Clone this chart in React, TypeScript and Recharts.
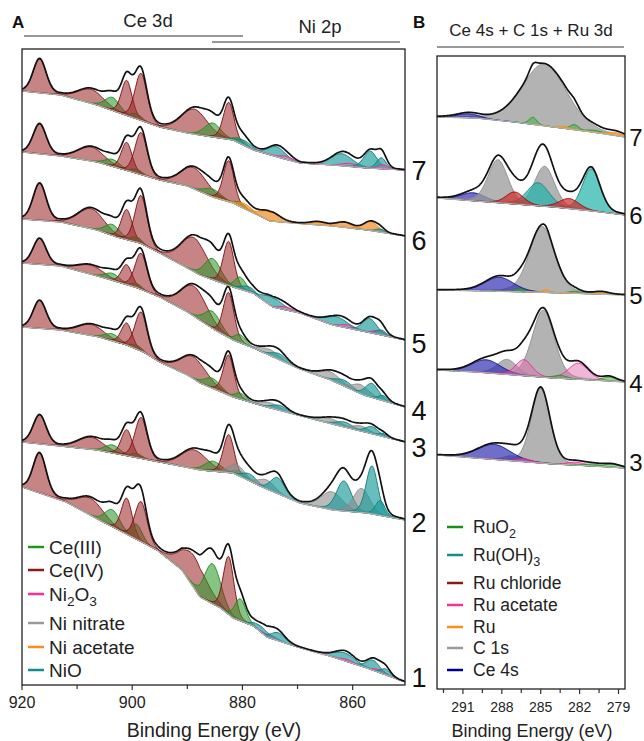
import React from 'react';
import { ComposedChart, Area, Line, XAxis, YAxis } from 'recharts';

const FONT = "'Liberation Sans', Arial, Helvetica, sans-serif";

type Peak = [string, number, number, number]; // component, centre (eV), height, fwhm (eV)
type Knot = [number, number]; // energy, background level

// ---------- Panel A : Ce 3d + Ni 2p ----------
const ceTypes = ['CeIV', 'CeIV', 'CeIII', 'CeIV', 'CeIII', 'CeIV', 'CeIV', 'CeIII', 'CeIV', 'CeIII'];
const ceCenters = [916.8, 907.5, 903.6, 901.0, 899.2, 898.4, 888.8, 885.4, 882.5, 880.4];
const ceWidths = [2.8, 5.5, 3.2, 2.3, 2.4, 2.6, 5.5, 3.5, 2.3, 2.4];

const ceHeights7 = [34, 14, 13, 35, 5, 47, 25, 14, 37, 5];
const ceHeights6 = [30, 14, 7, 28, 4, 42, 21, 8, 41, 4];
const ceHeights5 = [37, 20, 11, 30, 5, 48, 34, 21, 44, 12];
const ceHeights4 = [26, 9, 7, 20, 4, 36, 30, 17, 45, 8];
const ceHeights3 = [28, 11, 7, 22, 4, 39, 22, 10, 40, 6];
const ceHeights2 = [29, 12, 8, 26, 4, 41, 19, 10, 38, 5];
const ceHeights1 = [40, 17, 17, 36, 15, 40, 32, 40, 58, 22];

const baseA7: Knot[] = [[920, 594], [913, 590], [906.4, 580], [902.8, 573], [898.6, 565], [895, 558], [890, 552], [885.4, 548], [881.7, 545], [878, 535], [873, 527], [869.6, 522], [863.6, 520], [857.4, 517], [850.5, 515]];
const baseA6: Knot[] = [[920, 533], [913, 529], [906.4, 523], [900, 513], [895, 505], [890, 499], [885.4, 488], [881.7, 482], [878, 472], [875, 464], [870.9, 462], [863.6, 459], [857.4, 455], [850.5, 449]];
const baseA5: Knot[] = [[920, 466], [913, 463], [906.4, 455], [902.8, 448], [898.6, 442], [895, 432], [887.7, 410], [881.7, 398], [878.1, 392], [874.5, 378], [869.6, 372], [863.6, 360], [857.4, 353], [850.5, 345]];
const baseA4: Knot[] = [[920, 422], [913, 419], [905, 407], [899, 397], [895, 388], [890, 373], [885, 355], [881.7, 345], [878, 337], [874, 327], [870, 317], [864, 305], [858, 290], [850.5, 278]];
const baseA3: Knot[] = [[920, 358], [913, 355], [906, 348], [901, 340], [898, 333], [895, 323], [890, 310], [887.7, 302], [881.7, 288], [875.6, 278], [870, 270], [863, 260], [857, 252], [850.5, 243]];
const baseA2: Knot[] = [[920, 243], [906.4, 235], [895, 223], [887.7, 215], [881.7, 212], [876, 197], [869.6, 182], [863.6, 175], [857.4, 172], [850.5, 165]];
const baseA1: Knot[] = [[920, 198], [912, 183], [906, 165], [900, 148], [895.5, 135], [891, 115], [887.7, 88], [884, 77], [881.7, 67], [878, 59], [875.6, 48], [870, 38], [863.6, 28], [857.4, 17], [850.5, 3]];

const ni7: Peak[] = [['NiO', 879.5, 5, 3], ['NiO', 873.8, 10, 3.5], ['Ni2O3', 872, 3, 3], ['NiO', 862, 12, 4.5], ['Ni2O3', 860.5, 3, 3.5], ['NiO', 856.8, 17, 2.8], ['NiO', 854.8, 11, 2], ['Ni2O3', 854.5, 4, 2]];
const ni6: Peak[] = [['NiAc', 879.5, 5, 3], ['NiAc', 875, 9, 4], ['NiAc', 866.3, 3, 3.5], ['NiAc', 861.5, 5, 3.5], ['NiAc', 856.7, 9, 3], ['NiO', 855, 3, 2]];
const ni5: Peak[] = [['NiO', 879, 5, 3], ['NiO', 874.5, 9, 4], ['Ni2O3', 872, 3, 3], ['NiO', 862.9, 9, 4.5], ['Ni2O3', 861, 3, 3], ['NiO', 856.9, 14, 3], ['Ni2O3', 855.2, 4, 2.5], ['NiO', 854.8, 5, 2]];
const ni4: Peak[] = [['NiNit', 875, 6, 4], ['NiO', 873.3, 6, 3.2], ['NiNit', 864, 8, 4.5], ['NiO', 861.5, 6, 3.5], ['NiNit', 858.5, 9, 3.5], ['NiO', 856.5, 14, 2.8], ['NiO', 854.5, 5, 2]];
const ni3: Peak[] = [['NiNit', 875, 5, 4], ['NiO', 873.3, 5, 3.2], ['NiNit', 864, 5, 4.5], ['NiO', 861.5, 5, 3.5], ['NiNit', 858.5, 5, 3.5], ['NiO', 856.5, 7, 2.8], ['NiO', 854.5, 3, 2]];
const ni2: Peak[] = [['NiNit', 881, 10, 3.5], ['NiO', 878.7, 7, 3], ['NiNit', 875.6, 9, 3.5], ['NiO', 873.6, 16, 3], ['NiNit', 863.8, 18, 4.5], ['NiO', 861.6, 30, 3.2], ['NiNit', 858.4, 24, 3.5], ['NiO', 856.5, 48, 2.5], ['NiO', 855, 15, 2]];
const ni1: Peak[] = [['NiO', 876.5, 6, 3.5], ['Ni2O3', 875, 3, 3], ['NiO', 873.5, 8, 3], ['NiO', 861.5, 8, 4.5], ['Ni2O3', 861, 2, 3], ['NiO', 856.3, 10, 2.8], ['Ni2O3', 855, 3, 2.5], ['NiO', 854, 6, 2]];

// ---------- Panel B : Ce 4s + C 1s + Ru 3d ----------
const baseB7: Knot[] = [[293, 572], [290, 571], [287, 567], [284, 562], [281, 557], [278.5, 552]];
const baseB6: Knot[] = [[293, 491], [290, 488], [287, 485], [284, 482], [281, 478], [278.5, 474]];
const baseB5: Knot[] = [[293, 399], [289, 398], [286, 397], [283, 396], [278.5, 394]];
const baseB4: Knot[] = [[293, 319], [290, 317], [287, 314], [284, 311], [281, 309], [278.5, 307]];
const baseB3: Knot[] = [[293, 234], [290, 231], [287, 228], [284, 225], [281, 223], [278.5, 221]];

const peaksB7: Peak[] = [['C1s', 284.7, 62, 4.0], ['Ce4s', 290.6, 4, 2.0], ['RuO2', 285.6, 7, 0.7], ['RuO2', 282.4, 5, 0.8], ['RuO2', 280.8, 2, 1.5], ['Ru', 283.2, 2, 1.0], ['Ru', 279.2, 3, 1.5]];
const peaksB6: Peak[] = [['Ce4s', 290.2, 8, 2.2], ['C1s', 288.3, 43, 1.8], ['C1s', 284.7, 40, 1.8], ['RuOH', 285.2, 23, 2.0], ['RuOH', 281.1, 42, 1.6], ['RuCl', 287.0, 12, 1.6], ['RuCl', 282.8, 10, 1.8]];
const peaksB5: Peak[] = [['C1s', 284.9, 66, 2.3], ['Ce4s', 288.2, 14, 2.6], ['RuO2', 286.6, 3, 1.0], ['RuO2', 282.4, 2, 1.0], ['Ru', 284.6, 3, 0.6], ['Ru', 280.3, 2, 1.2]];
const peaksB4: Peak[] = [['C1s', 284.8, 67, 2.0], ['C1s', 287.6, 15, 1.8], ['Ce4s', 289.2, 13, 2.6], ['RuAc', 286.3, 16, 1.5], ['RuAc', 282.1, 16, 1.8], ['RuO2', 283.5, 3, 1.2], ['RuO2', 279.7, 4, 1.2]];
const peaksB3: Peak[] = [['C1s', 285.0, 75, 1.7], ['C1s', 287.2, 5, 1.5], ['Ce4s', 288.6, 15, 3.0], ['RuAc', 286.3, 3, 1.2], ['RuAc', 282.3, 3, 1.5], ['RuO2', 281, 2, 1.5], ['RuO2', 279.5, 3, 1.5]];

const ticksA = [920, 910, 900, 890, 880, 870, 860];
const ticksB = [292.5, 291, 289.5, 288, 286.5, 285, 283.5, 282, 280.5, 279];

const sampleLabels = ['7', '6', '5', '4', '3', '2', '1'];
const sampleLabelsB = ['7', '6', '5', '4', '3'];

const legendA: [string, string][] = [['Ce(III)', '#1a9a1a'], ['Ce(IV)', '#8b1a1a'], ['Ni2O3', '#ff2d95'], ['Ni nitrate', '#999999'], ['Ni acetate', '#ff8c1a'], ['NiO', '#148c8c']];
const legendB: [string, string][] = [['RuO2', '#1a8f1a'], ['Ru(OH)3', '#148c8c'], ['Ru chloride', '#8b1a1a'], ['Ru acetate', '#ff2d95'], ['Ru', '#ff8c1a'], ['C 1s', '#999999'], ['Ce 4s', '#00008b']];

const STYLE: Record<string, { stroke: string; fill: string; op: number }> = {
  CeIII: { stroke: '#1a8a1a', fill: '#2e9a2e', op: 0.58 },
  CeIV: { stroke: '#7a0a0a', fill: '#9a2424', op: 0.56 },
  Ni2O3: { stroke: '#ff1493', fill: '#ff69b4', op: 0.45 },
  NiNit: { stroke: '#8a8a8a', fill: '#8c8c8c', op: 0.6 },
  NiAc: { stroke: '#ff8000', fill: '#f08c1e', op: 0.7 },
  NiO: { stroke: '#0b7a7a', fill: '#1a9a9a', op: 0.65 },
  RuO2: { stroke: '#1a8f1a', fill: '#3cb43c', op: 0.55 },
  RuOH: { stroke: '#0e8080', fill: '#20b2aa', op: 0.7 },
  RuCl: { stroke: '#8b0000', fill: '#d42a2a', op: 0.7 },
  RuAc: { stroke: '#ff1493', fill: '#e070b0', op: 0.5 },
  Ru: { stroke: '#ff8c00', fill: '#ffa040', op: 0.75 },
  C1s: { stroke: '#8a8a8a', fill: '#999999', op: 0.75 },
  Ce4s: { stroke: '#00008b', fill: '#3232b4', op: 0.7 },
};

const LN = 4 * Math.LN2;
function pv(e: number, c: number, h: number, w: number) {
  const t = (e - c) / w;
  return h * (0.8 * Math.exp(-LN * t * t) + 0.2 / (1 + 4 * t * t));
}
function interp(knots: Knot[], e: number): number {
  if (e >= knots[0][0]) return knots[0][1];
  for (let i = 1; i < knots.length; i++) {
    const [e1, v1] = knots[i];
    const [e0, v0] = knots[i - 1];
    if (e >= e1) {
      const t = (e0 - e) / (e0 - e1);
      return v0 + t * (v1 - v0);
    }
  }
  return knots[knots.length - 1][1];
}

type Spec = { base: Knot[]; peaks: Peak[] };
function ceSpec(base: Knot[], heights: number[], ni: Peak[]): Spec {
  const ce: Peak[] = heights.map((h, i) => [ceTypes[i], ceCenters[i], h, ceWidths[i]]);
  return { base, peaks: ce.concat(ni) };
}

const specsA: Spec[] = [
  ceSpec(baseA1, ceHeights1, ni1),
  ceSpec(baseA2, ceHeights2, ni2),
  ceSpec(baseA3, ceHeights3, ni3),
  ceSpec(baseA4, ceHeights4, ni4),
  ceSpec(baseA5, ceHeights5, ni5),
  ceSpec(baseA6, ceHeights6, ni6),
  ceSpec(baseA7, ceHeights7, ni7),
];
const specsB: Spec[] = [
  { base: baseB3, peaks: peaksB3 },
  { base: baseB4, peaks: peaksB4 },
  { base: baseB5, peaks: peaksB5 },
  { base: baseB6, peaks: peaksB6 },
  { base: baseB7, peaks: peaksB7 },
];

function build(specs: Spec[], lo: number, hi: number, envStep: number, compStep: number) {
  return specs.map((s) => {
    const env: { x: number; y: number }[] = [];
    const bl: { x: number; y: number }[] = [];
    const n = Math.round((hi - lo) / envStep);
    for (let i = 0; i <= n; i++) {
      const e = lo + ((hi - lo) * i) / n;
      const b = interp(s.base, e);
      let sum = b;
      for (const p of s.peaks) sum += pv(e, p[1], p[2], p[3]);
      env.push({ x: e, y: sum });
      bl.push({ x: e, y: b });
    }
    const comps = s.peaks.map((p) => {
      const a = Math.max(lo, p[1] - 2.6 * p[3]);
      const z = Math.min(hi, p[1] + 2.6 * p[3]);
      const m = Math.max(4, Math.round((z - a) / compStep));
      const rows: { x: number; r: [number, number] }[] = [];
      for (let i = 0; i <= m; i++) {
        const e = a + ((z - a) * i) / m;
        const b = interp(s.base, e);
        rows.push({ x: e, r: [b, b + pv(e, p[1], p[2], p[3])] });
      }
      return { type: p[0], rows };
    });
    return { env, bl, comps };
  });
}

const builtA = build(specsA, 850.5, 920, 0.15, 0.2);
const builtB = build(specsB, 278.5, 293, 0.04, 0.05);

function renderSeries(built: ReturnType<typeof build>, prefix: string) {
  const out: React.ReactNode[] = [];
  built.forEach((s, si) => {
    s.comps.forEach((c, ci) => {
      const st = STYLE[c.type];
      out.push(
        <Area
          key={`${prefix}-c-${si}-${ci}`}
          data={c.rows}
          dataKey="r"
          type="monotone"
          stroke={st.stroke}
          strokeWidth={0.9}
          fill={st.fill}
          fillOpacity={st.op}
          isAnimationActive={false}
          dot={false}
          activeDot={false}
        />
      );
    });
    out.push(
      <Line key={`${prefix}-b-${si}`} data={s.bl} dataKey="y" type="linear" stroke="#b0b0b0" strokeWidth={1.4} dot={false} activeDot={false} isAnimationActive={false} />
    );
    out.push(
      <Line key={`${prefix}-e-${si}`} data={s.env} dataKey="y" type="linear" stroke="#111" strokeWidth={1.7} dot={false} activeDot={false} isAnimationActive={false} />
    );
  });
  return out;
}

const TickA = (props: any) => {
  const { x, y, payload } = props;
  const v = payload.value as number;
  const major = v % 20 === 0;
  return (
    <g>
      <line x1={x} x2={x} y1={y} y2={y + (major ? 5 : 4)} stroke="#333" strokeWidth={1.2} />
      {major && (
        <text x={x} y={y + 23} textAnchor="middle" fontSize={16} fontFamily={FONT} fill="#222">
          {v}
        </text>
      )}
    </g>
  );
};
const TickB = (props: any) => {
  const { x, y, payload } = props;
  const v = payload.value as number;
  const major = Number.isInteger(v) && v % 3 === 0;
  return (
    <g>
      <line x1={x} x2={x} y1={y} y2={y + (major ? 5 : 4)} stroke="#333" strokeWidth={1.2} />
      {major && (
        <text x={x} y={y + 23} textAnchor="middle" fontSize={14} fontFamily={FONT} fill="#222">
          {v}
        </text>
      )}
    </g>
  );
};

const labelYA = [677, 522, 447, 410, 343, 240, 170];
const labelYB = [462, 383, 295, 215, 137];
const legendYA = [547, 570, 594, 623, 647, 670];
const legendYB = [527, 555, 583, 605, 627, 648, 670];

function legendText(name: string, x: number, y: number, fs: number) {
  const sub = fs * 0.72;
  if (name === 'Ni2O3')
    return (
      <text x={x} y={y} fontSize={fs} fontFamily={FONT} fill="#222">
        Ni<tspan fontSize={sub} dy={5}>2</tspan>
        <tspan dy={-5}>O</tspan>
        <tspan fontSize={sub} dy={5}>3</tspan>
      </text>
    );
  if (name === 'RuO2')
    return (
      <text x={x} y={y} fontSize={fs} fontFamily={FONT} fill="#222">
        RuO<tspan fontSize={sub} dy={5}>2</tspan>
      </text>
    );
  if (name === 'Ru(OH)3')
    return (
      <text x={x} y={y} fontSize={fs} fontFamily={FONT} fill="#222">
        Ru(OH)<tspan fontSize={sub} dy={5}>3</tspan>
      </text>
    );
  return (
    <text x={x} y={y} fontSize={fs} fontFamily={FONT} fill="#222">
      {name}
    </text>
  );
}

export default function App() {
  return (
    <div style={{ position: 'absolute', left: 0, top: 0, width: 644, height: 741, background: '#fff', overflow: 'hidden' }}>
      <div style={{ position: 'absolute', left: 0, top: 0 }}>
        <ComposedChart width={430} height={741} margin={{ top: 49, right: 25, bottom: 16, left: 22 }}>
          <XAxis
            type="number"
            dataKey="x"
            domain={[850.5, 920]}
            reversed
            allowDataOverflow
            ticks={ticksA}
            interval={0}
            tickSize={0}
            tickMargin={0}
            tickLine={false}
            axisLine={false}
            height={40}
            tick={TickA}
          />
          <YAxis type="number" domain={[0, 636]} hide width={0} allowDataOverflow />
          {renderSeries(builtA, 'A')}
        </ComposedChart>
      </div>
      <div style={{ position: 'absolute', left: 430, top: 0 }}>
        <ComposedChart width={214} height={741} margin={{ top: 56, right: 19, bottom: 12, left: 7 }}>
          <XAxis
            type="number"
            dataKey="x"
            domain={[278.5, 293]}
            reversed
            allowDataOverflow
            ticks={ticksB}
            interval={0}
            tickSize={0}
            tickMargin={0}
            tickLine={false}
            axisLine={false}
            height={40}
            tick={TickB}
          />
          <YAxis type="number" domain={[0, 633]} hide width={0} allowDataOverflow />
          {renderSeries(builtB, 'B')}
        </ComposedChart>
      </div>
      <svg width={644} height={741} style={{ position: 'absolute', left: 0, top: 0, pointerEvents: 'none' }}>
        <rect x={22} y={49} width={383} height={636} fill="none" stroke="#222" strokeWidth={1.3} />
        <rect x={437} y={56} width={188} height={633} fill="none" stroke="#222" strokeWidth={1.3} />
        <text x={12} y={28} fontSize={17} fontWeight="bold" fontFamily={FONT} fill="#111">A</text>
        <text x={413} y={28} fontSize={17} fontWeight="bold" fontFamily={FONT} fill="#111">B</text>
        <text x={148} y={27} fontSize={18.5} textAnchor="middle" fontFamily={FONT} fill="#222">Ce 3d</text>
        <line x1={24} x2={243} y1={36} y2={36} stroke="#333" strokeWidth={1.2} />
        <text x={320} y={33} fontSize={18.5} textAnchor="middle" fontFamily={FONT} fill="#222">Ni 2p</text>
        <line x1={212} x2={400} y1={42} y2={42} stroke="#333" strokeWidth={1.2} />
        <text x={531} y={36} fontSize={17} textAnchor="middle" fontFamily={FONT} fill="#222">Ce 4s + C 1s + Ru 3d</text>
        <line x1={437} x2={624} y1={47} y2={47} stroke="#333" strokeWidth={1.2} />
        <text x={214} y={737} fontSize={19.5} textAnchor="middle" fontFamily={FONT} fill="#222">Binding Energy (eV)</text>
        <text x={532} y={737} fontSize={18} textAnchor="middle" fontFamily={FONT} fill="#222">Binding Energy (eV)</text>
        {sampleLabels.map((l, i) => (
          <text key={`la${l}`} x={419} y={labelYA[6 - i] + 10} fontSize={27} textAnchor="middle" fontFamily={FONT} fill="#111">{l}</text>
        ))}
        {sampleLabelsB.map((l, i) => (
          <text key={`lb${l}`} x={636} y={labelYB[4 - i] + 9} fontSize={24} textAnchor="middle" fontFamily={FONT} fill="#111">{l}</text>
        ))}
        {legendA.map(([name, color], i) => (
          <g key={`lga${i}`}>
            <line x1={28} x2={44} y1={legendYA[i]} y2={legendYA[i]} stroke={color} strokeWidth={2.5} />
            {legendText(name, 49, legendYA[i] + 7, 19)}
          </g>
        ))}
        {legendB.map(([name, color], i) => (
          <g key={`lgb${i}`}>
            <line x1={447} x2={463} y1={legendYB[i]} y2={legendYB[i]} stroke={color} strokeWidth={2.5} />
            {legendText(name, 473, legendYB[i] + 6, 17.5)}
          </g>
        ))}
      </svg>
    </div>
  );
}
